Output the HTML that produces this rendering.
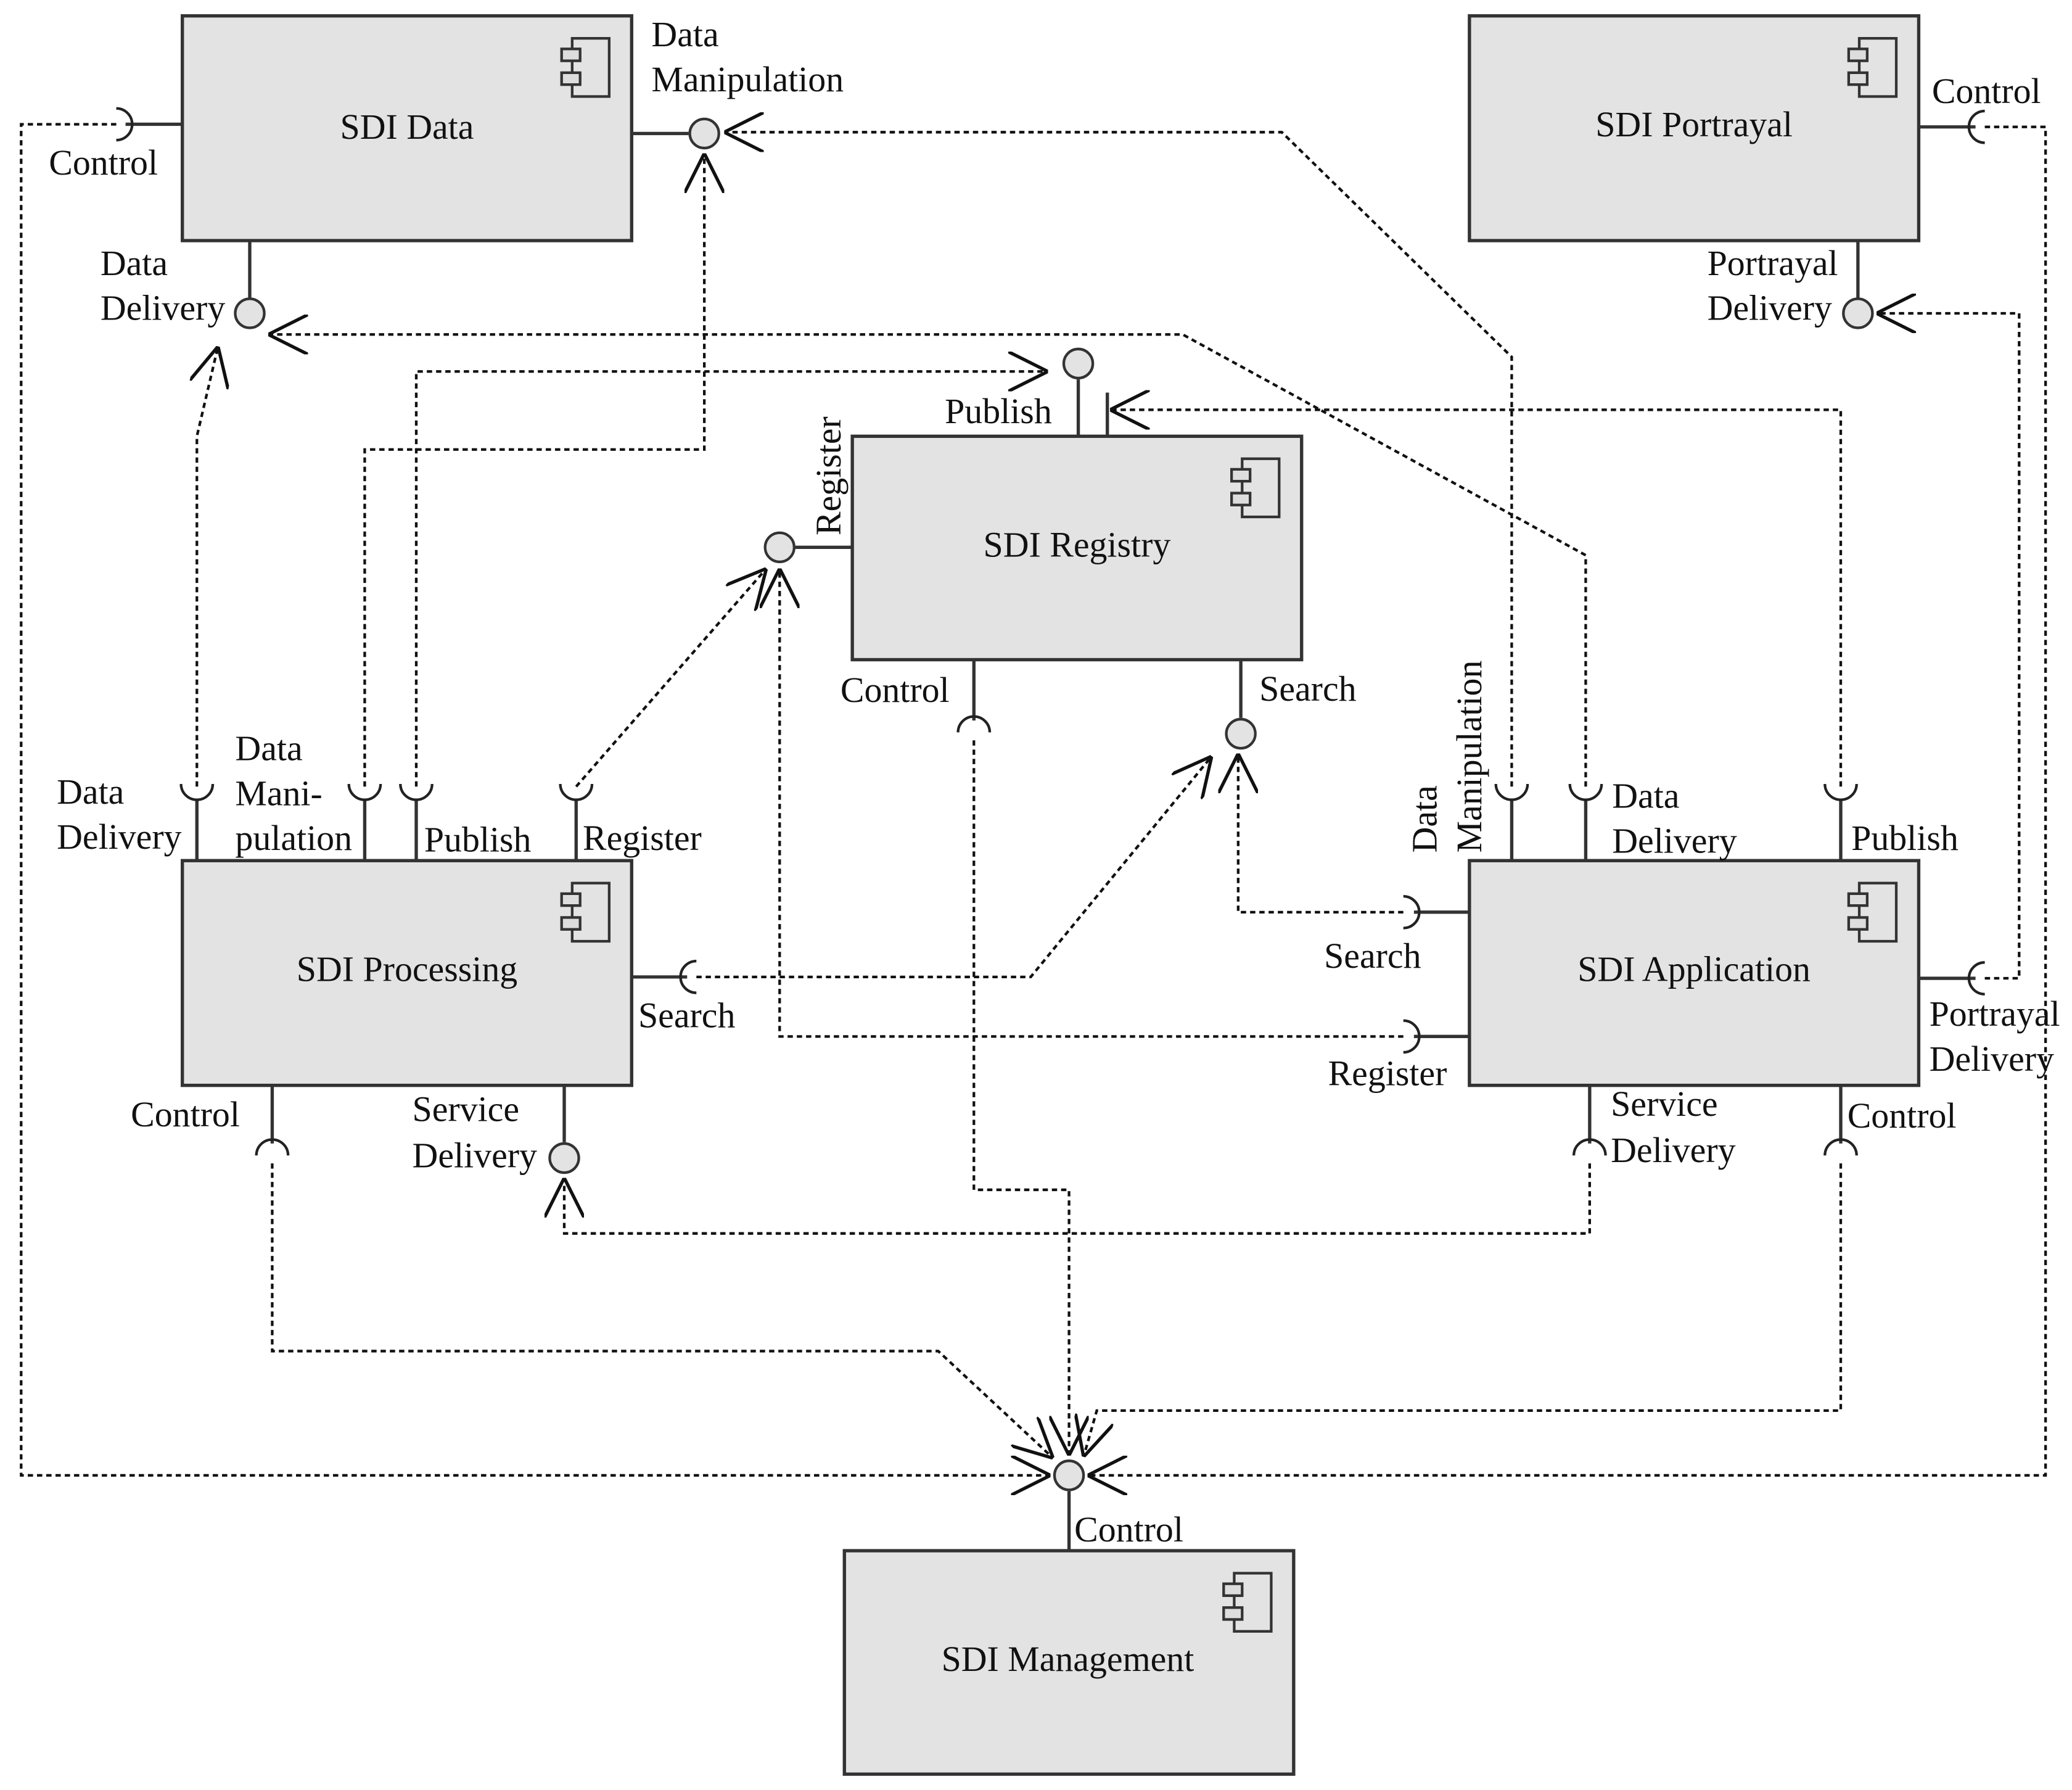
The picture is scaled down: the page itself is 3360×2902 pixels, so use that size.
<!DOCTYPE html>
<html><head><meta charset="utf-8"><style>
html,body{margin:0;padding:0;background:#fff}
svg{display:block}
text{font-family:"Liberation Serif",serif;font-size:27px;fill:#111}
</style></head><body>
<svg width="3360" height="2902" viewBox="0 0 1568 1354" preserveAspectRatio="none" xmlns="http://www.w3.org/2000/svg">
<defs>
<marker id="a" viewBox="0 0 12 12" refX="12" refY="6" markerWidth="30" markerHeight="30" markerUnits="userSpaceOnUse" orient="auto">
<path d="M0,0 L12,6 L0,12" fill="none" stroke="#111" stroke-width="1"/>
</marker>
<g id="ic"><rect x="10" y="0" width="28" height="44" fill="none" stroke="#333" stroke-width="2"/><rect x="2" y="8" width="14" height="9" fill="#ddd" stroke="#333" stroke-width="2"/><rect x="2" y="26" width="14" height="9" fill="#ddd" stroke="#333" stroke-width="2"/></g>
</defs>
<g fill="#e3e3e3" stroke="#333" stroke-width="2.5">
<rect x="138" y="12" width="340" height="170"/>
<rect x="1112" y="12" width="340" height="170"/>
<rect x="645" y="330" width="340" height="169"/>
<rect x="138" y="651" width="340" height="170"/>
<rect x="1112" y="651" width="340" height="170"/>
<rect x="639" y="1173" width="340" height="169"/>
</g>
<use href="#ic" x="423" y="29"/>
<use href="#ic" x="1397" y="29"/>
<use href="#ic" x="930" y="347"/>
<use href="#ic" x="423" y="668"/>
<use href="#ic" x="1397" y="668"/>
<use href="#ic" x="924" y="1190"/>
<g stroke="#333" stroke-width="2.5" fill="none">
<path d="M478,101H521 M189,182V226 M1406,182V226 M816,330V287 M645,414H602 M939,499V543 M427,821V864 M809,1173V1128"/>
<path d="M138,94H95 M1452,96H1495 M737,499V545 M149,651V605 M276,651V605 M315,651V605 M436,651V605 M478,739H520 M206,821V865 M1144,651V605 M1200,651V605 M1393,651V605 M1112,690H1070 M1112,784H1070 M1452,740H1495 M1203,821V865 M1393,821V865"/>
<path d="M838,330V297"/>
</g>
<g fill="#e3e3e3" stroke="#333" stroke-width="2">
<circle cx="533" cy="101" r="11"/><circle cx="189" cy="237" r="11"/><circle cx="1406" cy="237" r="11"/>
<circle cx="816" cy="275" r="11"/><circle cx="590" cy="414" r="11"/><circle cx="939" cy="555" r="11"/>
<circle cx="427" cy="876" r="11"/><circle cx="809" cy="1116" r="11"/>
</g>
<g fill="none" stroke="#222" stroke-width="2">
<path d="M88,82 A12,12 0 0 1 88,106"/>
<path d="M1502,84 A12,12 0 0 0 1502,108"/>
<path d="M725,554 A12,12 0 0 1 749,554"/>
<path d="M137,593 A12,12 0 0 0 161,593"/>
<path d="M264,593 A12,12 0 0 0 288,593"/>
<path d="M303,593 A12,12 0 0 0 327,593"/>
<path d="M424,593 A12,12 0 0 0 448,593"/>
<path d="M1132,593 A12,12 0 0 0 1156,593"/>
<path d="M1188,593 A12,12 0 0 0 1212,593"/>
<path d="M1381,593 A12,12 0 0 0 1405,593"/>
<path d="M527,727 A12,12 0 0 0 527,751"/>
<path d="M194,874 A12,12 0 0 1 218,874"/>
<path d="M1191,874 A12,12 0 0 1 1215,874"/>
<path d="M1381,874 A12,12 0 0 1 1405,874"/>
<path d="M1062,678 A12,12 0 0 1 1062,702"/>
<path d="M1062,772 A12,12 0 0 1 1062,796"/>
<path d="M1502,728 A12,12 0 0 0 1502,752"/>
</g>
<g fill="none" stroke="#111" stroke-width="2" stroke-dasharray="4,3" marker-end="url(#a)">
<path d="M1144,595V270L970,100H548"/>
<path d="M276,595V340H533V116"/>
<path d="M1200,595V420L895,253H203"/>
<path d="M149,595V330L165,262"/>
<path d="M315,595V281H793"/>
<path d="M1393,595V310H840"/>
<path d="M436,595L580,430"/>
<path d="M1062,784H590V430"/>
<path d="M527,739H780L917,572"/>
<path d="M1062,690H937V570"/>
<path d="M1502,740H1528V237H1420"/>
<path d="M1502,96H1548V1116H823"/>
<path d="M88,94H16V1116H795"/>
<path d="M737,560V900H809V1101"/>
<path d="M206,880V1022H710L797,1103"/>
<path d="M1393,880V1067H830L820,1102"/>
<path d="M1203,880V933H427V891"/>
</g>
<text x="308" y="105" text-anchor="middle">SDI Data</text>
<text x="1282" y="103" text-anchor="middle">SDI Portrayal</text>
<text x="815" y="421" text-anchor="middle">SDI Registry</text>
<text x="308" y="742" text-anchor="middle">SDI Processing</text>
<text x="1282" y="742" text-anchor="middle">SDI Application</text>
<text x="808" y="1264" text-anchor="middle">SDI Management</text>
<text x="493" y="35">Data</text><text x="493" y="69">Manipulation</text>
<text x="37" y="132">Control</text>
<text x="76" y="208">Data</text><text x="76" y="242">Delivery</text>
<text x="1462" y="78">Control</text>
<text x="1292" y="208">Portrayal</text><text x="1292" y="242">Delivery</text>
<text x="715" y="320">Publish</text>
<text transform="translate(636,405) rotate(-90)">Register</text>
<text x="636" y="531">Control</text><text x="953" y="530">Search</text>
<text x="43" y="608">Data</text><text x="43" y="642">Delivery</text>
<text x="178" y="575">Data</text><text x="178" y="609">Mani-</text><text x="178" y="643">pulation</text>
<text x="321" y="644">Publish</text><text x="441" y="643">Register</text>
<text x="483" y="777">Search</text><text x="99" y="852">Control</text>
<text x="312" y="848">Service</text><text x="312" y="883">Delivery</text>
<text transform="translate(1087,645) rotate(-90)">Data</text>
<text transform="translate(1121,645) rotate(-90)">Manipulation</text>
<text x="1220" y="611">Data</text><text x="1220" y="645">Delivery</text>
<text x="1401" y="643">Publish</text>
<text x="1002" y="732">Search</text><text x="1005" y="821">Register</text>
<text x="1460" y="776">Portrayal</text><text x="1460" y="810">Delivery</text>
<text x="1219" y="844">Service</text><text x="1219" y="879">Delivery</text>
<text x="1398" y="853">Control</text>
<text x="813" y="1166">Control</text>
</svg>
</body></html>
